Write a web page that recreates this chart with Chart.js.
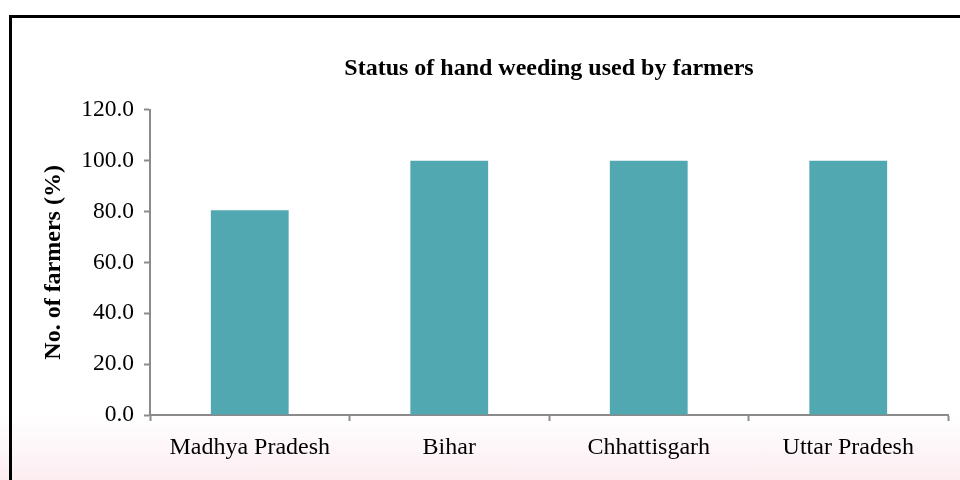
<!DOCTYPE html>
<html>
<head>
<meta charset="utf-8">
<script src="https://cdn.jsdelivr.net/npm/chart.js@4"></script>
<style>
  html, body { margin: 0; padding: 0; background: #fff; }
  #wrap {
    position: relative; width: 960px; height: 480px; overflow: hidden;
    background: linear-gradient(to bottom, #ffffff 0%, #ffffff 86%, #fcedf1 100%);
  }
  #frame {
    position: absolute; left: 9px; top: 15px; width: 1000px; height: 520px;
    border-left: 3px solid #000; border-top: 3px solid #000;
    pointer-events: none;
  }
  canvas { position: absolute; left: 0; top: 0; }
</style>
</head>
<body>
<div id="wrap">
  <canvas id="chart" width="960" height="480"></canvas>
  <div id="frame"></div>
</div>
<script>
const states = ['Madhya Pradesh', 'Bihar', 'Chhattisgarh', 'Uttar Pradesh'];
const handWeeding = [80.5, 100, 100, 100];
const yTicks = [0, 20, 40, 60, 80, 100, 120];

const serif = '"Liberation Serif", "Times New Roman", serif';
const axisGrey = '#8a8a8a';

const ctx = document.getElementById('chart').getContext('2d');
new Chart(ctx, {
    type: 'bar',
    data: {
        labels: states,
        datasets: [{
            label: 'Hand weeding',
            data: handWeeding,
            backgroundColor: '#52a8b1',
            borderWidth: 0,
            categoryPercentage: 1,
            barPercentage: 0.39
        }]
    },
    options: {
        responsive: false,
        animation: false,
        layout: { padding: { left: 0, right: 12, top: 0, bottom: 0 } },
        plugins: {
            legend: { display: false },
            tooltip: { enabled: false },
            title: {
                display: true,
                text: 'Status of hand weeding used by farmers',
                color: '#000',
                font: { family: serif, size: 24, weight: 'bold' },
                padding: { top: 54, bottom: 27 },
                fullSize: false
            }
        },
        scales: {
            x: {
                offset: true,
                border: { color: axisGrey, width: 2 },
                grid: {
                    offset: true,
                    drawOnChartArea: false,
                    drawTicks: true,
                    tickLength: 6,
                    tickWidth: 2,
                    tickColor: axisGrey
                },
                ticks: {
                    color: '#000',
                    padding: 12,
                    maxRotation: 0,
                    font: { family: serif, size: 24 }
                },
                afterFit: function(scale) { scale.height = 65; }
            },
            y: {
                min: 0,
                max: 120,
                afterBuildTicks: function(scale) {
                    scale.ticks = yTicks.map(v => ({ value: v }));
                },
                border: { color: axisGrey, width: 2 },
                grid: {
                    drawOnChartArea: false,
                    drawTicks: true,
                    tickLength: 6,
                    tickWidth: 2,
                    tickColor: axisGrey
                },
                ticks: {
                    color: '#000',
                    padding: 10,
                    font: { family: serif, size: 23.5 },
                    callback: function(v) { return Number(v).toFixed(1); }
                },
                title: {
                    display: true,
                    text: 'No. of farmers (%)',
                    color: '#000',
                    font: { family: serif, size: 24, weight: 'bold' },
                    padding: { top: 39, bottom: 0 }
                },
                afterFit: function(scale) { scale.width = 150; }
            }
        }
    }
});
</script>
</body>
</html>
